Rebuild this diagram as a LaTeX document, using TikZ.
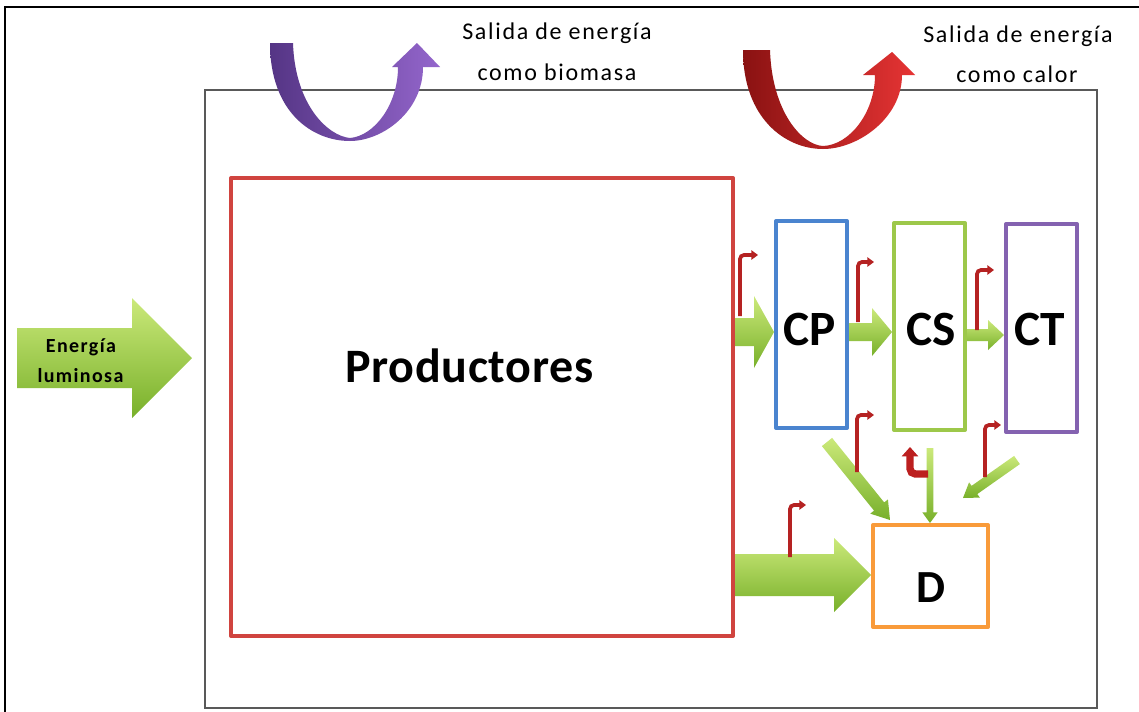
\documentclass[tikz,border=0pt]{standalone}
\usepackage{fontspec}
\setmainfont{Carlito}
\newfontfamily\salfont[LetterSpace=7]{Carlito}
\newfontfamily\prodfont[LetterSpace=1.5]{Carlito}
\newfontfamily\enfont[LetterSpace=7]{Carlito}
\usetikzlibrary{calc,arrows.meta}
\definecolor{prodred}{HTML}{D0443F}
\definecolor{cpblue}{HTML}{4A84CF}
\definecolor{csgreen}{HTML}{9DC84A}
\definecolor{ctpurple}{HTML}{8462B0}
\definecolor{dorange}{HTML}{F99B3A}
\definecolor{gA}{HTML}{CBE97A}
\definecolor{gB}{HTML}{78B02A}
\definecolor{hookred}{HTML}{B52222}
\definecolor{puA}{HTML}{553585}
\definecolor{puB}{HTML}{9466CC}
\definecolor{reA}{HTML}{8A1212}
\definecolor{reB}{HTML}{E63434}
\tikzset{
  box/.style={draw, line width=3pt, inner sep=0pt, line join=round},
  lab/.style={inner sep=0pt, anchor=base},
  greenarrow/.style={top color=gA, bottom color=gB},
  hook/.style={draw=hookred, line width=2.8pt, rounded corners=3pt,
    -{Triangle[length=5pt,width=7pt]}},
  hookthick/.style={draw=hookred!90!red, line width=5.5pt, rounded corners=4pt,
    -{Triangle[length=7pt,width=12pt]}},
}
% block arrow: from, to, body half width, head half width, head length
\newcommand\barrow[5]{%
  \coordinate (ba) at (#1);
  \coordinate (bb) at (#2);
  \coordinate (bc) at ($(bb)!#5!(ba)$);
  \path[greenarrow] ($(ba)!#3!90:(bb)$) -- ($(bc)!#3!90:(bb)$) -- ($(bc)!#4!90:(bb)$)
    -- (bb) -- ($(bc)!#4!-90:(bb)$) -- ($(bc)!#3!-90:(bb)$) -- ($(ba)!#3!-90:(bb)$) -- cycle;
}
\begin{document}
\begin{tikzpicture}[x=0.75pt,y=-0.75pt]
\useasboundingbox (0,0) rectangle (1139,711);
\clip (0,0) rectangle (1139,711);
\fill[white] (0,0) rectangle (1139,711);
% outer frame
\draw[line width=2.2pt] (5,7) rectangle (1160,730);
% ecosystem box
\node[draw=gray!70!black, line width=1.6pt, inner sep=0pt,
      minimum width={892*0.75pt}, minimum height={618*0.75pt}] (eco) at (651,399) {};
% boxes
\node[box, draw=prodred, minimum width={502*0.75pt}, minimum height={458*0.75pt}] (prod) at (482,407) {};
\node[box, draw=cpblue, minimum width={71*0.75pt}, minimum height={207*0.75pt}] (cp) at (811.5,324.5) {};
\node[box, draw=csgreen, minimum width={71*0.75pt}, minimum height={207*0.75pt}] (cs) at (929.5,326.5) {};
\node[box, draw=ctpurple, minimum width={71*0.75pt}, minimum height={208*0.75pt}] (ct) at (1041.5,328) {};
\node[box, draw=dorange, minimum width={115*0.75pt}, minimum height={102*0.75pt}] (d) at (930.5,576) {};
% labels
\node[lab, font=\prodfont\bfseries\fontsize{36}{42}\selectfont] (prodlab) at (469.5,382) {Productores};
\node[lab, font=\bfseries\fontsize{37}{44}\selectfont] (cplab) at (810,345) {CP};
\node[lab, font=\bfseries\fontsize{37}{44}\selectfont] (cslab) at (931,345) {CS};
\node[lab, font=\bfseries\fontsize{37}{44}\selectfont] (ctlab) at (1040,345) {CT};
\node[lab, font=\bfseries\fontsize{34.5}{40}\selectfont] (dlab) at (931,602) {D};
% top texts
\node[lab, font=\salfont\fontsize{18}{22}\selectfont] (s1a) at (557,39) {Salida de energía};
\node[lab, font=\salfont\fontsize{18}{22}\selectfont] (s1b) at (557,80) {como biomasa};
\node[lab, font=\salfont\fontsize{18}{22}\selectfont] (s2a) at (1018,42) {Salida de energía};
\node[lab, font=\salfont\fontsize{18}{22}\selectfont] (s2b) at (1017,82) {como calor};
% U arrows
\path[left color=puA, right color=puB]
  (270,43) -- (293,43) .. controls (295,105) and (328,136) .. (350,138)
  .. controls (374,136) and (398,105) .. (398,67) -- (392,67) -- (417,43) -- (440,67) -- (423,67)
  .. controls (423,112) and (382,141) .. (350,141)
  .. controls (312,141) and (270,112) .. (270,43) -- cycle;
\path[left color=reA, right color=reB]
  (743,50) -- (770,50) .. controls (772,112) and (802,145) .. (823,146)
  .. controls (850,145) and (875,112) .. (875,75) -- (863,75) -- (892,52) -- (915,75) -- (902,75)
  .. controls (902,118) and (858,149) .. (823,149)
  .. controls (785,149) and (743,118) .. (743,50) -- cycle;
% coordinates for arrows
\coordinate (en0) at (17,358);
\coordinate (en1) at (192,358);
% green block arrows
\barrow{en0}{en1}{22.5pt}{45pt}{45pt}
\barrow{prod.east |- 0,332}{cp.west |- 0,332}{10.5pt}{27pt}{15pt}
\barrow{cp.east |- 0,332}{cs.west |- 0,332}{6.75pt}{18pt}{15pt}
\barrow{cs.east |- 0,335}{ct.west |- 0,335}{4.5pt}{11.25pt}{12pt}
\barrow{prod.east |- 0,575}{d.west |- 0,575}{15.75pt}{27.75pt}{27.75pt}
\coordinate (g1) at (827,442);
\coordinate (g1e) at (890,520);
\barrow{g1}{g1e}{4.9pt}{8.5pt}{13pt}
\coordinate (g2) at (930,448);
\barrow{g2}{d.north -| g2}{2.6pt}{5.8pt}{8pt}
\coordinate (g3) at (1017,460);
\coordinate (g3e) at (963,498);
\barrow{g3}{g3e}{3.75pt}{7pt}{10.5pt}
% energy text
\node[lab, font=\enfont\bfseries\fontsize{15}{18}\selectfont] (en1lab) at (81,352) {Energía};
\node[lab, font=\enfont\bfseries\fontsize{15}{18}\selectfont] (en2lab) at (80.5,382) {luminosa};
% heat hooks
\coordinate (h1a) at (740,316); \coordinate (h1b) at (758,255);
\coordinate (h2a) at (858,322); \coordinate (h2b) at (874,262);
\coordinate (h3a) at (977,330); \coordinate (h3b) at (994,270);
\coordinate (h4a) at (857,472); \coordinate (h4b) at (874,415);
\coordinate (h5a) at (985,477); \coordinate (h5b) at (1001,425);
\coordinate (h6a) at (790,557); \coordinate (h6b) at (806,505);
\draw[hook] (h1a) |- (h1b);
\draw[hook] (h2a) |- (h2b);
\draw[hook] (h3a) |- (h3b);
\draw[hook] (h4a) |- (h4b);
\draw[hook] (h5a) |- (h5b);
\draw[hook] (h6a) |- (h6b);
\coordinate (h7a) at (928,474); \coordinate (h7b) at (910,447);
\draw[hookthick] (h7a) -| (h7b);
\end{tikzpicture}
\end{document}
